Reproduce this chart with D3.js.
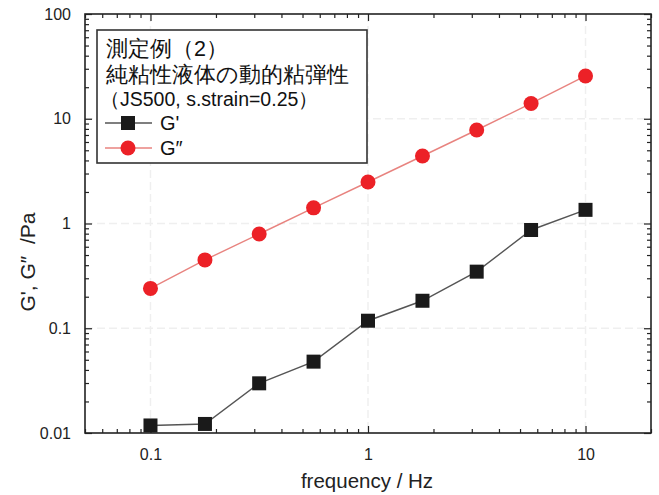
<!DOCTYPE html>
<html><head><meta charset="utf-8">
<script src="https://cdn.jsdelivr.net/npm/d3@7"></script>
<style>body{margin:0;background:#fff}svg{display:block}text{font-family:"Liberation Sans",Arial,sans-serif}</style>
</head><body>
<script>
const frequency = [0.1, 0.178, 0.316, 0.562, 1, 1.78, 3.16, 5.62, 10];
const gPrime = [0.0118, 0.0122, 0.0298, 0.048, 0.118, 0.183, 0.347, 0.867, 1.35];
const gDouble = [0.240, 0.449, 0.794, 1.41, 2.49, 4.41, 7.81, 14.0, 25.6];
const xTickLabels = [0.1, 1, 10];
const yTickLabels = [0.01, 0.1, 1, 10, 100];
const legendTitle = ["測定例（2）", "純粘性液体の動的粘弾性", "（JS500, s.strain=0.25）"];
const seriesNames = ["G'", "G\u2033"];

const W = 659, H = 495;
const m = {l: 85, r: 8, t: 14, b: 62};
const svg = d3.select("body").append("svg").attr("width", W).attr("height", H);
const x = d3.scaleLog().domain([0.05, 20]).range([m.l, W - m.r]);
const y = d3.scaleLog().domain([0.01, 100]).range([H - m.b, m.t]);

// faint grid
svg.append("g").selectAll("line").data(xTickLabels).join("line")
  .attr("x1", d => x(d)).attr("x2", d => x(d)).attr("y1", m.t).attr("y2", H - m.b)
  .attr("stroke", "#efefef").attr("stroke-width", 1.5).attr("stroke-dasharray", "8,4");
svg.append("g").selectAll("line").data(yTickLabels.slice(1, -1)).join("line")
  .attr("y1", d => y(d)).attr("y2", d => y(d)).attr("x1", m.l).attr("x2", W - m.r)
  .attr("stroke", "#efefef").attr("stroke-width", 1.5).attr("stroke-dasharray", "8,4");

const xMinor = x.ticks().filter(d => xTickLabels.indexOf(+d.toPrecision(6)) < 0);
const yMinor = y.ticks().filter(d => yTickLabels.indexOf(+d.toPrecision(6)) < 0);

function axisGroup(axis, tx, ty) {
  const g = svg.append("g").attr("transform", `translate(${tx},${ty})`).call(axis);
  g.select(".domain").remove();
  g.selectAll("line").attr("stroke", "#222").attr("stroke-width", 1.2);
  return g;
}
const fmt = d => String(+d.toPrecision(6));
const bx = axisGroup(d3.axisBottom(x).tickValues(xTickLabels).tickSize(-7).tickPadding(16).tickFormat(fmt), 0, H - m.b);
bx.selectAll("text").attr("font-size", 16).attr("fill", "#222");
axisGroup(d3.axisBottom(x).tickValues(xMinor).tickSize(-4).tickFormat(""), 0, H - m.b);
axisGroup(d3.axisTop(x).tickValues(xTickLabels).tickSize(-7).tickFormat(""), 0, m.t);
axisGroup(d3.axisTop(x).tickValues(xMinor).tickSize(-4).tickFormat(""), 0, m.t);
const ly = axisGroup(d3.axisLeft(y).tickValues(yTickLabels).tickSize(-7).tickPadding(14).tickFormat(fmt), m.l, 0);
ly.selectAll("text").attr("font-size", 16).attr("fill", "#222");
axisGroup(d3.axisLeft(y).tickValues(yMinor).tickSize(-4).tickFormat(""), m.l, 0);
axisGroup(d3.axisRight(y).tickValues(yTickLabels).tickSize(-7).tickFormat(""), W - m.r, 0);
axisGroup(d3.axisRight(y).tickValues(yMinor).tickSize(-4).tickFormat(""), W - m.r, 0);

svg.append("rect").attr("x", m.l).attr("y", m.t).attr("width", W - m.r - m.l).attr("height", H - m.b - m.t)
  .attr("fill", "none").attr("stroke", "#222").attr("stroke-width", 1.6);

svg.append("text").attr("x", 367).attr("y", 488).attr("text-anchor", "middle")
  .attr("font-size", 20.5).attr("fill", "#222").text("frequency / Hz");
svg.append("text").attr("transform", "translate(35,262) rotate(-90)").attr("text-anchor", "middle")
  .attr("font-size", 21).attr("fill", "#222").attr("xml:space", "preserve").style("white-space", "pre")
  .text("G', G\u2033  /Pa");

const line = d3.line().x(d => x(d[0])).y(d => y(d[1]));
const dP = frequency.map((f, i) => [f, gPrime[i]]);
const dD = frequency.map((f, i) => [f, gDouble[i]]);
svg.append("path").datum(dP).attr("d", line).attr("fill", "none").attr("stroke", "#555").attr("stroke-width", 1.4);
svg.append("path").datum(dD).attr("d", line).attr("fill", "none").attr("stroke", "#e8837f").attr("stroke-width", 1.4);
svg.append("g").selectAll("rect").data(dP).join("rect")
  .attr("x", d => x(d[0]) - 7).attr("y", d => y(d[1]) - 7).attr("width", 14).attr("height", 14)
  .attr("fill", "#1a1a1a");
svg.append("g").selectAll("circle").data(dD).join("circle")
  .attr("cx", d => x(d[0])).attr("cy", d => y(d[1])).attr("r", 7.5).attr("fill", "#ec2127");

const lg = svg.append("g");
lg.append("rect").attr("x", 97).attr("y", 30).attr("width", 270).attr("height", 133)
  .attr("fill", "#fff").attr("stroke", "#333").attr("stroke-width", 1.6);
const cjk = '"Noto Sans CJK JP","Liberation Sans",sans-serif';
legendTitle.forEach((t, i) => {
  lg.append("text").attr("x", i === 2 ? 100 : 106).attr("y", [56, 82, 106][i]).attr("font-size", i === 2 ? 19.5 : 21.5)
    .attr("font-family", cjk).attr("font-weight", 500).attr("fill", "#111").text(t);
});
[0, 1].forEach(i => {
  const cy = [123, 148][i];
  lg.append("line").attr("x1", 105).attr("x2", 152).attr("y1", cy).attr("y2", cy)
    .attr("stroke", i ? "#e8837f" : "#555").attr("stroke-width", 1.4);
  if (i) lg.append("circle").attr("cx", 128).attr("cy", cy).attr("r", 7.5).attr("fill", "#ec2127");
  else lg.append("rect").attr("x", 121).attr("y", cy - 7).attr("width", 14).attr("height", 14).attr("fill", "#1a1a1a");
  lg.append("text").attr("x", 160).attr("y", cy + 7).attr("font-size", 20).attr("fill", "#111").text(seriesNames[i]);
});
</script>
</body></html>
